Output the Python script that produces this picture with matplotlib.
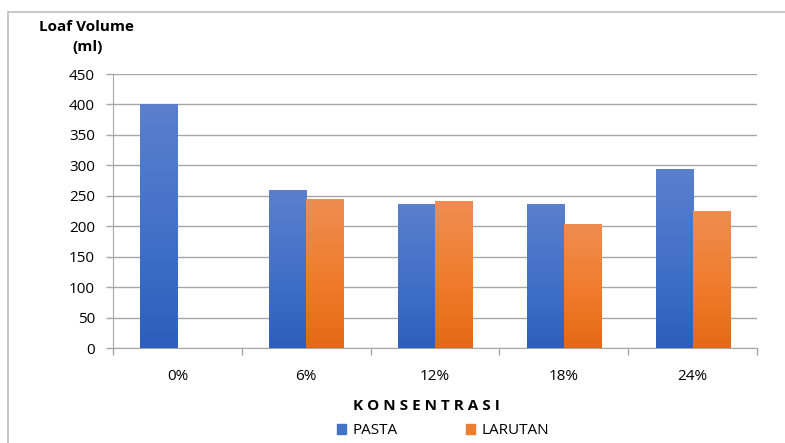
import numpy as np
import matplotlib
matplotlib.use("Agg")
import matplotlib.pyplot as plt
from matplotlib.colors import LinearSegmentedColormap
from matplotlib.lines import Line2D
from matplotlib.patches import Rectangle

categories = ["0%", "6%", "12%", "18%", "24%"]
pasta = [400, 259, 236, 236, 294]
larutan = [0, 244, 241, 204, 225]
yticks = [0, 50, 100, 150, 200, 250, 300, 350, 400, 450]

plt.rcParams['font.family'] = ['Open Sans', 'DejaVu Sans']

fig = plt.figure(figsize=(7.85, 4.43), dpi=100)
ax = fig.add_axes([113/785, 1-348/443, (757-113)/785, (348-74)/443])

x = np.arange(len(categories))
w = 0.2875
blue_cmap = LinearSegmentedColormap.from_list("b", ["#2E5EBD", "#4472C8", "#5A80CD"])
orange_cmap = LinearSegmentedColormap.from_list("o", ["#E36916", "#F07E2E", "#EF8C52"])

grad = np.linspace(0, 1, 256).reshape(-1, 1)
for xs, vals, cmap, color in [(x - w/2, pasta, blue_cmap, "#4472C4"), (x + w/2, larutan, orange_cmap, "#ED7D31")]:
    bars = ax.bar(xs, vals, width=w, color=color, zorder=3)
    for b in bars:
        h = b.get_height()
        if h <= 0:
            continue
        bx = b.get_x()
        im = ax.imshow(grad, extent=[bx, bx + w, 0, h], origin="lower", cmap=cmap,
                       aspect="auto", zorder=4)
        im.set_clip_path(b)

ax.set_xlim(-0.5, len(categories) - 0.5)
ax.set_ylim(0, 450)
ax.set_yticks(yticks)
ax.set_yticklabels([str(v) for v in yticks], fontsize=11)
ax.yaxis.grid(True, color="#A6A6A6", linewidth=1, zorder=0)
ax.set_axisbelow(True)

ax.set_xticks(x)
ax.set_xticklabels(categories, fontsize=11)
ax.tick_params(axis='x', length=0, pad=15)
ax.set_xticks(np.arange(-0.5, len(categories)), minor=True)
ax.tick_params(axis='x', which='minor', length=5, color="#A6A6A6", width=1)
ax.tick_params(axis='y', length=5, color="#A6A6A6", width=1, pad=8)

for s in ["top", "right"]:
    ax.spines[s].set_visible(False)
ax.spines["left"].set_color("#A6A6A6")
ax.spines["bottom"].set_color("#A6A6A6")

fig.text(86/785, 1-27/443, "Loaf Volume", fontsize=11, fontweight="bold", ha="center", va="center")
fig.text(88/785, 1-47/443, "(ml)", fontsize=11, fontweight="bold", ha="center", va="center")

fig.text(426/785, 1-406/443, "K O N S E N T R A S I", fontsize=11, fontweight="bold",
         ha="center", va="center")

handles = [Rectangle((0, 0), 1, 1, color="#4472C4"), Rectangle((0, 0), 1, 1, color="#ED7D31")]
fig.legend(handles, ["PASTA", "LARUTAN"], loc="center", bbox_to_anchor=(443/785, 1-431/443),
           ncol=2, frameon=False, fontsize=11, handlelength=0.6, handleheight=0.6,
           columnspacing=4.5, handletextpad=0.4)

# chart border (top and left)
fig.add_artist(Line2D([8/785, 1], [1-12/443, 1-12/443], color="#BFBFBF", linewidth=1.2))
fig.add_artist(Line2D([8/785, 8/785], [0, 1-12/443], color="#BFBFBF", linewidth=1.2))

fig.savefig("out.png", dpi=100)
